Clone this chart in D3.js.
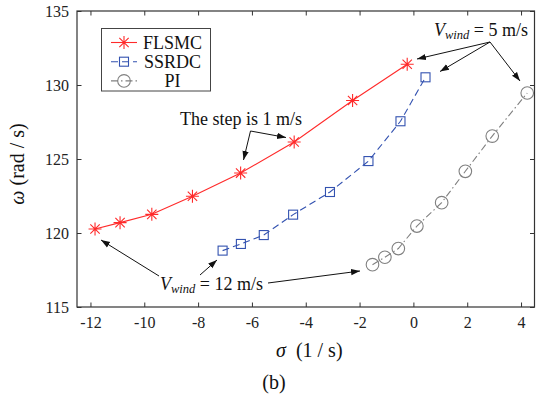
<!DOCTYPE html>
<html>
<head>
<meta charset="utf-8">
<script src="https://cdn.jsdelivr.net/npm/d3@7"></script>
<style>
  body { margin: 0; background: #fff; }
  svg text { font-family: "Liberation Serif", "Times New Roman", serif; }
</style>
</head>
<body>
<svg id="chart" width="543" height="396"></svg>
<script>
// sigma (1/s) and omega (rad/s), wind speed 12 -> 5 m/s
const flsmcSigma = [-11.83, -10.90, -9.72, -8.21, -6.42, -4.43, -2.26, -0.23];
const flsmcOmega = [120.27, 120.70, 121.26, 122.48, 124.05, 126.15, 128.95, 131.40];
const ssrdcSigma = [-7.09, -6.41, -5.56, -4.47, -3.10, -1.67, -0.48, 0.45];
const ssrdcOmega = [118.81, 119.26, 119.86, 121.24, 122.77, 124.86, 127.55, 130.52];
const piSigma = [-1.52, -1.06, -0.56, 0.13, 1.05, 1.93, 2.93, 4.23];
const piOmega = [117.86, 118.36, 118.95, 120.47, 122.05, 124.17, 126.55, 129.46];
const xTicks = [-12, -10, -8, -6, -4, -2, 0, 2, 4];
const yTicks = [115, 120, 125, 130, 135];

const svg = d3.select("#chart");
const plotL = 77, plotR = 534.5, plotT = 11, plotB = 307;

const x = d3.scaleLinear().domain([-12.5, 4.5]).range([plotL, plotR]);
const y = d3.scaleLinear().domain([115, 135]).range([plotB, plotT]);

// axes, ticks inside on all four sides
const tickLen = 4.5;
const cleanAxis = g => {
  g.select(".domain").remove();
  g.attr("font-family", null).attr("font-size", null);
};
svg.append("g").attr("transform", `translate(0,${plotB})`)
  .call(d3.axisBottom(x).tickValues(xTicks).tickSize(-tickLen).tickPadding(10).tickFormat(d => d))
  .call(cleanAxis);
svg.append("g").attr("transform", `translate(0,${plotT})`)
  .call(d3.axisTop(x).tickValues(xTicks).tickSize(-tickLen).tickFormat(""))
  .call(cleanAxis);
svg.append("g").attr("transform", `translate(${plotL},0)`)
  .call(d3.axisLeft(y).tickValues(yTicks).tickSize(-tickLen).tickPadding(8))
  .call(cleanAxis);
svg.append("g").attr("transform", `translate(${plotR},0)`)
  .call(d3.axisRight(y).tickValues(yTicks).tickSize(-tickLen).tickFormat(""))
  .call(cleanAxis);

svg.selectAll(".tick line").attr("stroke", "#333").attr("stroke-width", 1);
svg.selectAll(".tick text").style("font-size", "16px").attr("fill", "#222");

svg.append("rect")
  .attr("x", plotL).attr("y", plotT)
  .attr("width", plotR - plotL).attr("height", plotB - plotT)
  .attr("fill", "none").attr("stroke", "#333").attr("stroke-width", 1.2);

// series
const starPath = r => {
  const d = r * 0.72;
  return `M${-r},0L${r},0M0,${-r}L0,${r}M${-d},${-d}L${d},${d}M${-d},${d}L${d},${-d}`;
};
const series = [
  { name: "FLSMC", sx: flsmcSigma, sy: flsmcOmega, color: "#ff2a2a", dash: null, marker: "star" },
  { name: "SSRDC", sx: ssrdcSigma, sy: ssrdcOmega, color: "#3352b0", dash: "7,4", marker: "square" },
  { name: "PI", sx: piSigma, sy: piOmega, color: "#808080", dash: "7,3,1.5,3", marker: "circle" }
];

function drawMarker(g, kind, color, cx, cy) {
  if (kind === "star") {
    g.append("path").attr("d", starPath(6.5)).attr("transform", `translate(${cx},${cy})`)
      .attr("stroke", color).attr("stroke-width", 1.1).attr("fill", "none");
  } else if (kind === "square") {
    g.append("rect").attr("x", cx - 4.5).attr("y", cy - 4.5).attr("width", 9).attr("height", 9)
      .attr("stroke", color).attr("stroke-width", 1.1).attr("fill", "none");
  } else {
    g.append("circle").attr("cx", cx).attr("cy", cy).attr("r", 6.3)
      .attr("stroke", color).attr("stroke-width", 1.1).attr("fill", "none");
  }
}

const line = d3.line().x(d => x(d[0])).y(d => y(d[1]));
series.forEach(s => {
  const pts = s.sx.map((v, i) => [v, s.sy[i]]);
  svg.append("path").datum(pts).attr("d", line)
    .attr("fill", "none").attr("stroke", s.color).attr("stroke-width", 1.1)
    .attr("stroke-dasharray", s.dash);
  const g = svg.append("g");
  pts.forEach(p => drawMarker(g, s.marker, s.color, x(p[0]), y(p[1])));
});

// legend
const lg = svg.append("g");
lg.append("rect").attr("x", 101.5).attr("y", 28.5).attr("width", 109).attr("height", 62.5)
  .attr("fill", "#fff").attr("stroke", "#444").attr("stroke-width", 1);
series.forEach((s, i) => {
  const ly = 42.5 + i * 19.2;
  lg.append("line").attr("x1", 111).attr("x2", 137).attr("y1", ly).attr("y2", ly)
    .attr("stroke", s.color).attr("stroke-width", 1.1).attr("stroke-dasharray", s.dash);
  drawMarker(lg, s.marker, s.color, 124, ly);
  lg.append("text").attr("x", 172.5).attr("y", ly + 6).attr("text-anchor", "middle")
    .style("font-size", "18px").attr("fill", "#111").text(s.name);
});

// annotations
const defs = svg.append("defs");
defs.append("marker").attr("id", "arr").attr("viewBox", "0 0 10 10")
  .attr("refX", 10).attr("refY", 5).attr("markerWidth", 9).attr("markerHeight", 9)
  .attr("markerUnits", "userSpaceOnUse").attr("orient", "auto")
  .append("path").attr("d", "M0,1.5L10,5L0,8.5Z").attr("fill", "#111");

function arrow(x1, y1, x2, y2) {
  svg.append("line").attr("x1", x1).attr("y1", y1).attr("x2", x2).attr("y2", y2)
    .attr("stroke", "#111").attr("stroke-width", 1).attr("marker-end", "url(#arr)");
}
function windLabel(tx, ty, val) {
  const t = svg.append("text").attr("x", tx).attr("y", ty).style("font-size", "18px").attr("fill", "#111");
  t.append("tspan").style("font-style", "italic").text("V");
  t.append("tspan").style("font-style", "italic").style("font-size", "12.5px").attr("dy", 3).text("wind");
  t.append("tspan").attr("dy", -3).text(` = ${val} m/s`);
}

windLabel(434, 36, 5);
arrow(490, 42, 417, 59);
arrow(490, 42, 440, 71.5);
arrow(490, 42, 520, 81);

svg.append("text").attr("x", 180).attr("y", 124.5).style("font-size", "18px").attr("fill", "#111")
  .text("The step is 1 m/s");
arrow(250.5, 131, 243.5, 160);
arrow(250.5, 131, 286, 137.5);

windLabel(160, 289.5, 12);
arrow(159, 276, 101, 240);
arrow(200, 275, 217, 260);
arrow(268, 283, 360, 271);

// axis titles
const xl = svg.append("text").attr("x", 276).attr("y", 357).style("font-size", "20px").attr("fill", "#111");
xl.append("tspan").style("font-style", "italic").text("σ");
xl.append("tspan").text("\u00a0\u00a0(1 / s)");

const yl = svg.append("text").attr("transform", "translate(24,164) rotate(-90)")
  .attr("text-anchor", "middle").style("font-size", "20px").attr("fill", "#111");
yl.append("tspan").style("font-style", "italic").text("ω");
yl.append("tspan").text(" (rad / s)");

svg.append("text").attr("x", 274).attr("y", 389).attr("text-anchor", "middle")
  .style("font-size", "20px").attr("fill", "#111").text("(b)");
</script>
</body>
</html>
